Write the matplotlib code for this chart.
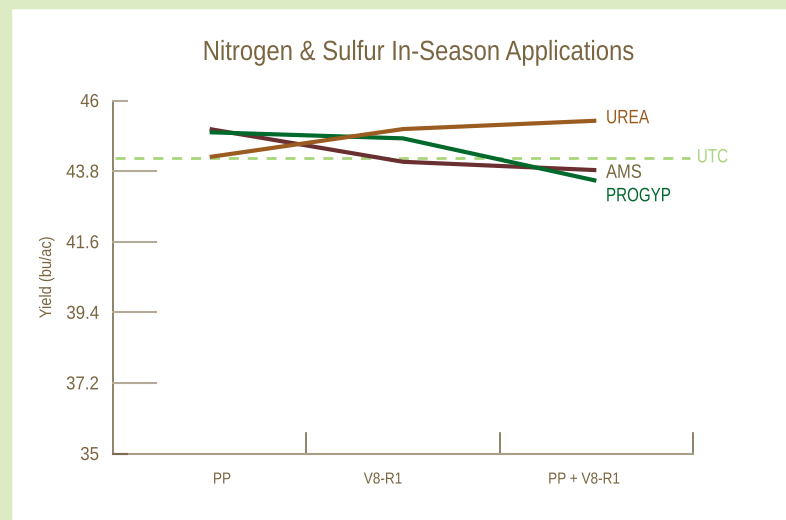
import numpy as np
import matplotlib
matplotlib.use("Agg")
import matplotlib.pyplot as plt
from matplotlib.patches import Rectangle
from matplotlib import patheffects
from matplotlib.transforms import Affine2D

# data
categories = ["PP", "V8-R1", "PP + V8-R1"]
urea = [44.24, 45.11, 45.37]
ams = [45.11, 44.09, 43.83]
progyp = [45.01, 44.82, 43.50]
utc = 44.21
yticks = [35, 37.2, 39.4, 41.6, 43.8, 46]
ytick_labels = ["35", "37.2", "39.4", "41.6", "43.8", "46"]

TAN = "#7a6540"
TICK = "#b3aa98"
AXIS = "#7d6c52"
plt.rcParams['font.family'] = ['Liberation Sans', 'DejaVu Sans']


class Squeeze(patheffects.AbstractPathEffect):
    # squeeze text horizontally, the reference uses a condensed face
    def __init__(self, sx, anchor="center"):
        super().__init__()
        self.sx = sx
        self.anchor = anchor

    def draw_path(self, renderer, gc, tpath, affine, rgbFace=None):
        xmax = tpath.vertices[:, 0].max() if len(tpath.vertices) else 0
        px = {"left": 0, "right": xmax, "center": xmax / 2}[self.anchor]
        t = Affine2D().translate(-px, 0).scale(self.sx, 1).translate(px, 0) + affine
        renderer.draw_path(gc, tpath, t, rgbFace)


def squeeze(txt, sx, anchor="center"):
    txt.set_path_effects([Squeeze(sx, anchor)])


fig = plt.figure(figsize=(7.86, 5.2), dpi=100)
# light green frame on the top and left
fig.patches.append(Rectangle((0, 1 - 8 / 520), 1, 8 / 520, transform=fig.transFigure,
                             color="#dcebc4", zorder=0))
fig.patches.append(Rectangle((0, 0), 11 / 786, 1, transform=fig.transFigure,
                             color="#dcebc4", zorder=0))

ax = fig.add_axes([113 / 786, 1 - 453.5 / 520, 580 / 786, 353 / 520])
x = np.arange(len(categories))
ax.set_xlim(-0.5, len(categories) - 0.5)
ax.set_ylim(35, 46)

for s in ["top", "right"]:
    ax.spines[s].set_visible(False)
ax.spines["left"].set_color(AXIS)
ax.spines["left"].set_linewidth(1.2)
ax.spines["bottom"].set_color("#a89e88")
ax.spines["bottom"].set_linewidth(1.5)

# y ticks drawn as inward horizontal bars
ax.set_yticks(yticks)
ax.set_yticklabels(ytick_labels, color=TAN, fontsize=13.5)
ax.tick_params(axis="y", length=0, pad=10)
for lab in ax.get_yticklabels():
    squeeze(lab, 0.9, "right")
ytr = ax.get_yaxis_transform()
for t in yticks:
    ln = 14 / 580 if t in (35, 46) else 43 / 580
    col = AXIS if t == 35 else TICK
    ax.plot([0, ln], [t, t], transform=ytr, color=col, lw=1.5, clip_on=False, zorder=3)

# x category separators
xtr = ax.get_xaxis_transform()
for b in x + 0.5:
    ax.plot([b, b], [0, 21 / 353], transform=xtr, color=AXIS, lw=1.2, clip_on=False)
ax.set_xticks([0.064, 0.897, 1.937])
ax.set_xticklabels(categories, color=TAN, fontsize=11.5)
ax.tick_params(axis="x", length=0, pad=13)
for lab in ax.get_xticklabels():
    squeeze(lab, 0.85)

# UTC reference line
ax.axhline(utc, color="#a8d67c", lw=2, ls=(0, (3.6, 3.2)), xmin=0.003, xmax=0.995)

ax.plot(x, ams, color="#6a2f30", lw=3, solid_capstyle="butt")
ax.plot(x, progyp, color="#00692b", lw=3, solid_capstyle="butt")
ax.plot(x, urea, color="#9b5c22", lw=3, solid_capstyle="butt")

squeeze(ax.text(2.05, urea[-1] + 0.06, "UREA", color="#9b5c22", fontsize=14, va="center"),
        0.8, "left")
squeeze(ax.text(2.52, utc, "UTC", color="#a8d67c", fontsize=14, va="center"), 0.78, "left")
squeeze(ax.text(2.05, ams[-1] - 0.1, "AMS", color=TAN, fontsize=14, va="center"), 0.85, "left")
squeeze(ax.text(2.05, progyp[-1] - 0.5, "PROGYP", color="#00692b", fontsize=14, va="center"),
        0.78, "left")

ax.set_ylabel("Yield (bu/ac)", color=TAN, fontsize=12)
ax.yaxis.set_label_coords(-59 / 580, 0.5)
squeeze(ax.yaxis.label, 0.88)

squeeze(fig.text(418 / 786, 1 - 53 / 520, "Nitrogen & Sulfur In-Season Applications",
                 color=TAN, fontsize=20, ha="center", va="center"), 0.86)

fig.savefig("out.png", dpi=100, facecolor="white")
